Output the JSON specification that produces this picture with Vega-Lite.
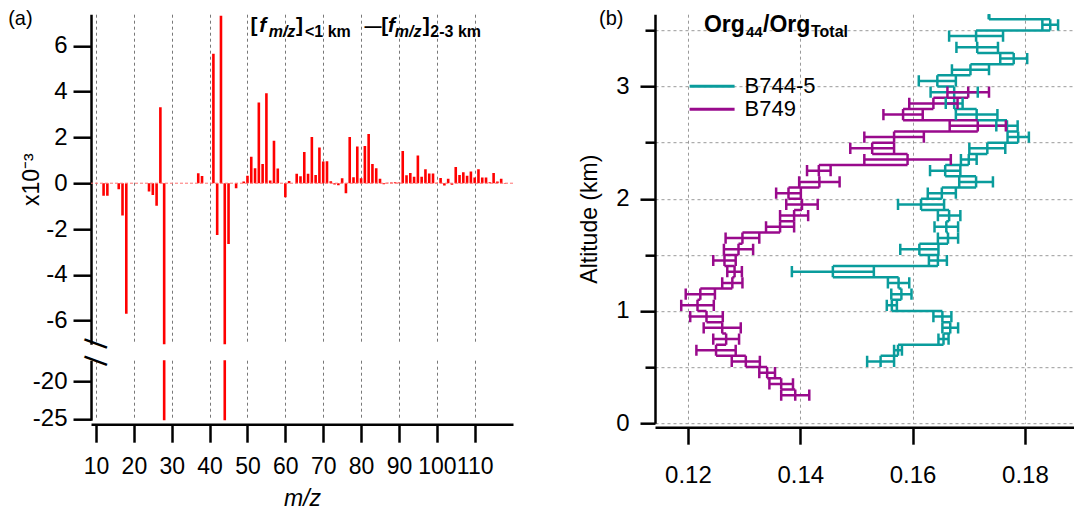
{
  "$schema": "https://vega.github.io/schema/vega-lite/v6.json",
  "background": "white",
  "padding": {"left": 8, "top": 8.2, "right": 0, "bottom": 0},
  "bounds": "flush",
  "spacing": 564,
  "datasets": {
    "ms": [
      {"mz": 12, "d": -0.55}, {"mz": 13, "d": -0.55}, {"mz": 16, "d": -0.26}, {"mz": 17, "d": -1.41}, {"mz": 18, "d": -5.7},
      {"mz": 24, "d": -0.36}, {"mz": 25, "d": -0.51}, {"mz": 26, "d": -0.98}, {"mz": 27, "d": 3.32}, {"mz": 28, "d": -25.5},
      {"mz": 37, "d": 0.44}, {"mz": 38, "d": 0.32}, {"mz": 41, "d": 5.65}, {"mz": 42, "d": -2.26}, {"mz": 43, "d": 7.31},
      {"mz": 44, "d": -25.5}, {"mz": 45, "d": -2.65}, {"mz": 47, "d": -0.22}, {"mz": 49, "d": 0.07}, {"mz": 50, "d": 0.33},
      {"mz": 51, "d": 1.16}, {"mz": 52, "d": 0.65}, {"mz": 53, "d": 3.52}, {"mz": 54, "d": 0.84}, {"mz": 55, "d": 3.93},
      {"mz": 56, "d": 0.12}, {"mz": 57, "d": 1.85}, {"mz": 58, "d": 0.64}, {"mz": 60, "d": -0.61}, {"mz": 61, "d": 0.1},
      {"mz": 63, "d": 0.41}, {"mz": 64, "d": 0.3}, {"mz": 65, "d": 1.36}, {"mz": 66, "d": 0.41}, {"mz": 67, "d": 2.02},
      {"mz": 68, "d": 0.36}, {"mz": 69, "d": 1.56}, {"mz": 70, "d": 0.95}, {"mz": 71, "d": 0.96}, {"mz": 72, "d": 0.09},
      {"mz": 73, "d": -0.06}, {"mz": 74, "d": -0.09}, {"mz": 75, "d": 0.22}, {"mz": 76, "d": -0.44}, {"mz": 77, "d": 2.02},
      {"mz": 78, "d": 0.26}, {"mz": 79, "d": 1.6}, {"mz": 80, "d": 0.22}, {"mz": 81, "d": 1.63}, {"mz": 82, "d": 2.15},
      {"mz": 83, "d": 0.84}, {"mz": 84, "d": 0.65}, {"mz": 85, "d": 0.19}, {"mz": 86, "d": -0.05}, {"mz": 87, "d": 0.02},
      {"mz": 88, "d": 0.03}, {"mz": 89, "d": 0.04}, {"mz": 90, "d": 0.03}, {"mz": 91, "d": 1.41}, {"mz": 92, "d": 0.35},
      {"mz": 93, "d": 0.45}, {"mz": 94, "d": 0.28}, {"mz": 95, "d": 1.21}, {"mz": 96, "d": 0.28}, {"mz": 97, "d": 0.61},
      {"mz": 98, "d": 0.42}, {"mz": 99, "d": 0.42}, {"mz": 100, "d": 0.02}, {"mz": 101, "d": 0.23}, {"mz": 102, "d": -0.1},
      {"mz": 103, "d": 0.19}, {"mz": 104, "d": -0.07}, {"mz": 105, "d": 0.71}, {"mz": 106, "d": 0.36}, {"mz": 107, "d": 0.48},
      {"mz": 108, "d": 0.33}, {"mz": 109, "d": 0.51}, {"mz": 110, "d": 0.25}, {"mz": 111, "d": 0.61}, {"mz": 112, "d": 0.25},
      {"mz": 113, "d": 0.25}, {"mz": 114, "d": 0.04}, {"mz": 115, "d": 0.45}, {"mz": 116, "d": 0.07}, {"mz": 117, "d": 0.19},
      {"mz": 118, "d": -0.02}
    ],
    "prof": [
      {"s": "B744-5", "alt": 0.55, "a0": 0.5, "a1": 0.6, "v": 0.1543, "lo": 0.1519, "hi": 0.1567},
      {"s": "B744-5", "alt": 0.65, "a0": 0.6, "a1": 0.7, "v": 0.1574, "lo": 0.1567, "hi": 0.1581},
      {"s": "B744-5", "alt": 0.75, "a0": 0.7, "a1": 0.8, "v": 0.1655, "lo": 0.1646, "hi": 0.1664},
      {"s": "B744-5", "alt": 0.85, "a0": 0.8, "a1": 0.9, "v": 0.1667, "lo": 0.1653, "hi": 0.1681},
      {"s": "B744-5", "alt": 0.95, "a0": 0.9, "a1": 1.0, "v": 0.1653, "lo": 0.1637, "hi": 0.1669},
      {"s": "B744-5", "alt": 1.05, "a0": 1.0, "a1": 1.1, "v": 0.1563, "lo": 0.1554, "hi": 0.1572},
      {"s": "B744-5", "alt": 1.15, "a0": 1.1, "a1": 1.2, "v": 0.158, "lo": 0.1562, "hi": 0.1598},
      {"s": "B744-5", "alt": 1.25, "a0": 1.2, "a1": 1.3, "v": 0.1575, "lo": 0.1556, "hi": 0.1594},
      {"s": "B744-5", "alt": 1.35, "a0": 1.3, "a1": 1.4, "v": 0.1458, "lo": 0.1385, "hi": 0.1531},
      {"s": "B744-5", "alt": 1.45, "a0": 1.4, "a1": 1.5, "v": 0.1645, "lo": 0.1629, "hi": 0.1661},
      {"s": "B744-5", "alt": 1.55, "a0": 1.5, "a1": 1.6, "v": 0.1612, "lo": 0.1578, "hi": 0.1646},
      {"s": "B744-5", "alt": 1.65, "a0": 1.6, "a1": 1.7, "v": 0.1663, "lo": 0.1645, "hi": 0.1681},
      {"s": "B744-5", "alt": 1.75, "a0": 1.7, "a1": 1.8, "v": 0.166, "lo": 0.1639, "hi": 0.1681},
      {"s": "B744-5", "alt": 1.85, "a0": 1.8, "a1": 1.9, "v": 0.1665, "lo": 0.1645, "hi": 0.1685},
      {"s": "B744-5", "alt": 1.95, "a0": 1.9, "a1": 2.0, "v": 0.1615, "lo": 0.1574, "hi": 0.1656},
      {"s": "B744-5", "alt": 2.05, "a0": 2.0, "a1": 2.1, "v": 0.1652, "lo": 0.1627, "hi": 0.1677},
      {"s": "B744-5", "alt": 2.15, "a0": 2.1, "a1": 2.2, "v": 0.1713, "lo": 0.1683, "hi": 0.1743},
      {"s": "B744-5", "alt": 2.25, "a0": 2.2, "a1": 2.3, "v": 0.1658, "lo": 0.1631, "hi": 0.1685},
      {"s": "B744-5", "alt": 2.35, "a0": 2.3, "a1": 2.4, "v": 0.17, "lo": 0.1686, "hi": 0.1714},
      {"s": "B744-5", "alt": 2.45, "a0": 2.4, "a1": 2.5, "v": 0.1733, "lo": 0.1701, "hi": 0.1765},
      {"s": "B744-5", "alt": 2.55, "a0": 2.5, "a1": 2.6, "v": 0.1788, "lo": 0.1769, "hi": 0.1807},
      {"s": "B744-5", "alt": 2.65, "a0": 2.6, "a1": 2.7, "v": 0.1768, "lo": 0.1749, "hi": 0.1787},
      {"s": "B744-5", "alt": 2.75, "a0": 2.7, "a1": 2.8, "v": 0.1714, "lo": 0.1677, "hi": 0.1751},
      {"s": "B744-5", "alt": 2.85, "a0": 2.8, "a1": 2.9, "v": 0.1674, "lo": 0.1659, "hi": 0.1689},
      {"s": "B744-5", "alt": 2.95, "a0": 2.9, "a1": 3.0, "v": 0.1674, "lo": 0.1632, "hi": 0.1716},
      {"s": "B744-5", "alt": 3.05, "a0": 3.0, "a1": 3.1, "v": 0.1644, "lo": 0.1611, "hi": 0.1677},
      {"s": "B744-5", "alt": 3.15, "a0": 3.1, "a1": 3.2, "v": 0.1703, "lo": 0.167, "hi": 0.1736},
      {"s": "B744-5", "alt": 3.25, "a0": 3.2, "a1": 3.3, "v": 0.178, "lo": 0.1756, "hi": 0.1804},
      {"s": "B744-5", "alt": 3.35, "a0": 3.3, "a1": 3.4, "v": 0.1715, "lo": 0.1678, "hi": 0.1752},
      {"s": "B744-5", "alt": 3.45, "a0": 3.4, "a1": 3.5, "v": 0.1713, "lo": 0.1665, "hi": 0.1761},
      {"s": "B744-5", "alt": 3.55, "a0": 3.5, "a1": 3.6, "v": 0.1845, "lo": 0.1831, "hi": 0.1859},
      {"s": "B744-5", "alt": 3.65, "a0": 3.6, "a1": 3.7, "v": 0.1736, "lo": 0.1736, "hi": 0.1736},
      {"s": "B749", "alt": 0.25, "a0": 0.2, "a1": 0.3, "v": 0.1391, "lo": 0.1366, "hi": 0.1416},
      {"s": "B749", "alt": 0.35, "a0": 0.3, "a1": 0.4, "v": 0.1366, "lo": 0.1345, "hi": 0.1387},
      {"s": "B749", "alt": 0.45, "a0": 0.4, "a1": 0.5, "v": 0.1341, "lo": 0.1327, "hi": 0.1355},
      {"s": "B749", "alt": 0.55, "a0": 0.5, "a1": 0.6, "v": 0.1303, "lo": 0.1278, "hi": 0.1328},
      {"s": "B749", "alt": 0.65, "a0": 0.6, "a1": 0.7, "v": 0.125, "lo": 0.1215, "hi": 0.1285},
      {"s": "B749", "alt": 0.75, "a0": 0.7, "a1": 0.8, "v": 0.1268, "lo": 0.1245, "hi": 0.1291},
      {"s": "B749", "alt": 0.85, "a0": 0.8, "a1": 0.9, "v": 0.1261, "lo": 0.1228, "hi": 0.1294},
      {"s": "B749", "alt": 0.95, "a0": 0.9, "a1": 1.0, "v": 0.1233, "lo": 0.1204, "hi": 0.1262},
      {"s": "B749", "alt": 1.05, "a0": 1.0, "a1": 1.1, "v": 0.1217, "lo": 0.1188, "hi": 0.1246},
      {"s": "B749", "alt": 1.15, "a0": 1.1, "a1": 1.2, "v": 0.1222, "lo": 0.1196, "hi": 0.1248},
      {"s": "B749", "alt": 1.25, "a0": 1.2, "a1": 1.3, "v": 0.1279, "lo": 0.1261, "hi": 0.1297},
      {"s": "B749", "alt": 1.35, "a0": 1.3, "a1": 1.4, "v": 0.1283, "lo": 0.127, "hi": 0.1296},
      {"s": "B749", "alt": 1.45, "a0": 1.4, "a1": 1.5, "v": 0.1265, "lo": 0.1245, "hi": 0.1285},
      {"s": "B749", "alt": 1.55, "a0": 1.5, "a1": 1.6, "v": 0.129, "lo": 0.1264, "hi": 0.1316},
      {"s": "B749", "alt": 1.65, "a0": 1.6, "a1": 1.7, "v": 0.1297, "lo": 0.1267, "hi": 0.1327},
      {"s": "B749", "alt": 1.75, "a0": 1.7, "a1": 1.8, "v": 0.1364, "lo": 0.1339, "hi": 0.1389},
      {"s": "B749", "alt": 1.85, "a0": 1.8, "a1": 1.9, "v": 0.1389, "lo": 0.1364, "hi": 0.1414},
      {"s": "B749", "alt": 1.95, "a0": 1.9, "a1": 2.0, "v": 0.1403, "lo": 0.1375, "hi": 0.1431},
      {"s": "B749", "alt": 2.05, "a0": 2.0, "a1": 2.1, "v": 0.1379, "lo": 0.1357, "hi": 0.1401},
      {"s": "B749", "alt": 2.15, "a0": 2.1, "a1": 2.2, "v": 0.1434, "lo": 0.1398, "hi": 0.147},
      {"s": "B749", "alt": 2.25, "a0": 2.2, "a1": 2.3, "v": 0.1433, "lo": 0.1412, "hi": 0.1454},
      {"s": "B749", "alt": 2.35, "a0": 2.3, "a1": 2.4, "v": 0.1591, "lo": 0.1514, "hi": 0.1668},
      {"s": "B749", "alt": 2.45, "a0": 2.4, "a1": 2.5, "v": 0.1528, "lo": 0.1489, "hi": 0.1567},
      {"s": "B749", "alt": 2.55, "a0": 2.5, "a1": 2.6, "v": 0.1567, "lo": 0.1514, "hi": 0.162},
      {"s": "B749", "alt": 2.65, "a0": 2.6, "a1": 2.7, "v": 0.1716, "lo": 0.1666, "hi": 0.1766},
      {"s": "B749", "alt": 2.75, "a0": 2.7, "a1": 2.8, "v": 0.1583, "lo": 0.1548, "hi": 0.1618},
      {"s": "B749", "alt": 2.85, "a0": 2.8, "a1": 2.9, "v": 0.1637, "lo": 0.1594, "hi": 0.168},
      {"s": "B749", "alt": 2.95, "a0": 2.9, "a1": 3.0, "v": 0.1699, "lo": 0.1662, "hi": 0.1736}
    ]
  },
  "hconcat": [
    {
      "vconcat": [
        {
          "width": 422,
          "height": 330,
          "layer": [
            {
              "data": {"name": "ms"},
              "mark": {"type": "bar", "color": "#ff0000", "width": 2.6, "clip": true},
              "encoding": {
                "x": {"field": "mz", "type": "quantitative",
                  "scale": {"domain": [10, 118.8], "nice": false, "zero": false},
                  "axis": {"values": [10,15,20,25,30,35,40,45,50,55,60,65,70,75,80,85,90,95,100,105,110,115], "labels": false, "ticks": false, "domain": false, "grid": true, "title": null}},
                "y": {"field": "d", "type": "quantitative",
                  "scale": {"domain": [-7.03, 7.38], "nice": false, "zero": false},
                  "axis": {"values": [-6,-4,-2,0,2,4,6], "tickSize": 18, "labelPadding": 6, "grid": false,
                    "labelExpr": "datum.value < 0 ? '-' + abs(datum.value) : '' + datum.value",
                    "title": "x10⁻³", "titleFontSize": 23, "titlePadding": 2}},
                "y2": {"datum": 0}
              }
            },
            {
              "data": {"values": [{}]},
              "mark": {"type": "rule", "color": "#ff7070", "strokeDash": [3, 2], "strokeWidth": 1},
              "encoding": {"y": {"datum": 0, "type": "quantitative"}}
            },
            {"data": {"values": [{}]}, "mark": {"type": "text", "text": "(a)", "fontSize": 20, "align": "left", "baseline": "alphabetic", "font": "Liberation Sans"}, "encoding": {"x": {"datum": -13.19, "type": "quantitative"}, "y": {"datum": 6.9, "type": "quantitative"}}},
            {"data": {"values": [{}]}, "mark": {"type": "text", "text": "[", "fontSize": 21, "fontWeight": "bold", "align": "left", "baseline": "alphabetic", "font": "Liberation Sans"}, "encoding": {"x": {"datum": 50.8, "type": "quantitative"}, "y": {"datum": 6.594, "type": "quantitative"}}},
            {"data": {"values": [{}]}, "mark": {"type": "text", "text": "f", "fontSize": 21, "fontWeight": "bold", "fontStyle": "italic", "align": "left", "baseline": "alphabetic", "font": "Liberation Sans"}, "encoding": {"x": {"datum": 53.1, "type": "quantitative"}, "y": {"datum": 6.594, "type": "quantitative"}}},
            {"data": {"values": [{}]}, "mark": {"type": "text", "text": "m/z", "fontSize": 16, "fontWeight": "bold", "fontStyle": "italic", "align": "left", "baseline": "alphabetic", "font": "Liberation Sans"}, "encoding": {"x": {"datum": 55.6, "type": "quantitative"}, "y": {"datum": 6.406, "type": "quantitative"}}},
            {"data": {"values": [{}]}, "mark": {"type": "text", "text": "]", "fontSize": 21, "fontWeight": "bold", "align": "left", "baseline": "alphabetic", "font": "Liberation Sans"}, "encoding": {"x": {"datum": 62.8, "type": "quantitative"}, "y": {"datum": 6.594, "type": "quantitative"}}},
            {"data": {"values": [{}]}, "mark": {"type": "text", "text": "<1 km", "fontSize": 16, "fontWeight": "bold", "align": "left", "baseline": "alphabetic", "font": "Liberation Sans"}, "encoding": {"x": {"datum": 65.2, "type": "quantitative"}, "y": {"datum": 6.406, "type": "quantitative"}}},
            {"data": {"values": [{}]}, "mark": {"type": "text", "text": "—", "fontSize": 17, "fontWeight": "bold", "align": "left", "baseline": "alphabetic", "font": "Liberation Sans"}, "encoding": {"x": {"datum": 80.9, "type": "quantitative"}, "y": {"datum": 6.594, "type": "quantitative"}}},
            {"data": {"values": [{}]}, "mark": {"type": "text", "text": "[", "fontSize": 21, "fontWeight": "bold", "align": "left", "baseline": "alphabetic", "font": "Liberation Sans"}, "encoding": {"x": {"datum": 85.3, "type": "quantitative"}, "y": {"datum": 6.594, "type": "quantitative"}}},
            {"data": {"values": [{}]}, "mark": {"type": "text", "text": "f", "fontSize": 21, "fontWeight": "bold", "fontStyle": "italic", "align": "left", "baseline": "alphabetic", "font": "Liberation Sans"}, "encoding": {"x": {"datum": 87.1, "type": "quantitative"}, "y": {"datum": 6.594, "type": "quantitative"}}},
            {"data": {"values": [{}]}, "mark": {"type": "text", "text": "m/z", "fontSize": 16, "fontWeight": "bold", "fontStyle": "italic", "align": "left", "baseline": "alphabetic", "font": "Liberation Sans"}, "encoding": {"x": {"datum": 88.9, "type": "quantitative"}, "y": {"datum": 6.406, "type": "quantitative"}}},
            {"data": {"values": [{}]}, "mark": {"type": "text", "text": "]", "fontSize": 21, "fontWeight": "bold", "align": "left", "baseline": "alphabetic", "font": "Liberation Sans"}, "encoding": {"x": {"datum": 96.3, "type": "quantitative"}, "y": {"datum": 6.594, "type": "quantitative"}}},
            {"data": {"values": [{}]}, "mark": {"type": "text", "text": "2-3 km", "fontSize": 16, "fontWeight": "bold", "align": "left", "baseline": "alphabetic", "font": "Liberation Sans"}, "encoding": {"x": {"datum": 98.3, "type": "quantitative"}, "y": {"datum": 6.406, "type": "quantitative"}}}
          ]
        },
        {
          "width": 422,
          "height": 60,
          "layer": [
            {
              "data": {"name": "ms"},
              "mark": {"type": "bar", "color": "#ff0000", "width": 2.6, "clip": true},
              "encoding": {
                "x": {"field": "mz", "type": "quantitative",
                  "scale": {"domain": [10, 118.8], "nice": false, "zero": false},
                  "axis": {"values": [10,15,20,25,30,35,40,45,50,55,60,65,70,75,80,85,90,95,100,105,110,115],
                    "tickSize": {"condition": {"test": "datum.value % 10 === 0", "value": 18}, "value": 10},
                    "labelExpr": "datum.value % 10 === 0 ? format(datum.value, 'd') : ''",
                    "labelOverlap": false, "labelBound": false, "labelFontSize": 23,
                    "offset": 4, "labelPadding": 13, "grid": true, "title": "m/z", "titleFontStyle": "italic", "titleFontSize": 23, "titlePadding": 9}},
                "y": {"field": "d", "type": "quantitative",
                  "scale": {"domain": [-25.2, -17.2], "nice": false, "zero": false},
                  "axis": {"values": [-25, -20], "tickSize": 18, "labelPadding": 6, "grid": false, "title": null,
                    "labelExpr": "'-' + abs(datum.value)"}},
                "y2": {"datum": 0}
              }
            },
            {"data": {"values": [{}]}, "mark": {"type": "text", "text": "—", "fontSize": 24, "fontWeight": "bold", "angle": 20, "align": "center", "baseline": "middle", "font": "Liberation Sans"}, "encoding": {"x": {"datum": 10, "type": "quantitative"}, "y": {"datum": -14.9, "type": "quantitative"}}},
            {"data": {"values": [{}]}, "mark": {"type": "text", "text": "—", "fontSize": 24, "fontWeight": "bold", "angle": 20, "align": "center", "baseline": "middle", "font": "Liberation Sans"}, "encoding": {"x": {"datum": 10, "type": "quantitative"}, "y": {"datum": -17.2, "type": "quantitative"}}}
          ]
        }
      ],
      "spacing": 16,
      "bounds": "flush"
    },
    {
      "width": 420,
      "height": 409,
      "data": {"name": "prof"},
      "layer": [
        {
          "mark": {"type": "rule", "strokeWidth": 2.5, "clip": true},
          "encoding": {
            "x": {"field": "v", "type": "quantitative",
              "scale": {"domain": [0.11413, 0.18891], "nice": false, "zero": false},
              "axis": {"values": [0.12, 0.14, 0.16, 0.18], "format": ".2f", "tickSize": 17, "offset": 4, "labelPadding": 19, "grid": true, "gridColor": "#999", "title": null}},
            "y": {"field": "a0", "type": "quantitative",
              "scale": {"domain": [0, 3.645], "nice": false, "zero": false},
              "axis": {"values": [0, 0.5, 1, 1.5, 2, 2.5, 3, 3.5],
                "tickSize": {"condition": {"test": "datum.value % 1 === 0", "value": 15}, "value": 10},
                "labelExpr": "datum.value % 1 === 0 ? format(datum.value, 'd') : ''",
                "labelPadding": 11, "grid": true, "gridColor": "#999", "title": "Altitude (km)", "titleFontSize": 23, "titlePadding": 14}},
            "y2": {"field": "a1"},
            "color": {"field": "s", "type": "nominal",
              "scale": {"domain": ["B744-5", "B749"], "range": ["#0a9c9c", "#990a8c"]},
              "legend": null}
          }
        },
        {
          "transform": [
            {"window": [{"op": "lead", "field": "v", "as": "vn"}], "sort": [{"field": "alt", "order": "ascending"}], "groupby": ["s"]},
            {"filter": "datum.vn != null"}
          ],
          "mark": {"type": "rule", "strokeWidth": 2.5, "clip": true},
          "encoding": {
            "x": {"field": "v", "type": "quantitative"},
            "x2": {"field": "vn"},
            "y": {"field": "a1", "type": "quantitative"},
            "color": {"field": "s", "type": "nominal", "legend": null}
          }
        },
        {
          "mark": {"type": "rule", "strokeWidth": 2.5, "clip": true},
          "encoding": {
            "x": {"field": "lo", "type": "quantitative"},
            "x2": {"field": "hi"},
            "y": {"field": "alt", "type": "quantitative"},
            "color": {"field": "s", "type": "nominal", "legend": null}
          }
        },
        {
          "mark": {"type": "rule", "strokeWidth": 2.5, "clip": true},
          "encoding": {
            "x": {"field": "lo", "type": "quantitative"},
            "y": {"field": "a0", "type": "quantitative"},
            "y2": {"field": "a1"},
            "color": {"field": "s", "type": "nominal", "legend": null}
          }
        },
        {
          "mark": {"type": "rule", "strokeWidth": 2.5, "clip": true},
          "encoding": {
            "x": {"field": "hi", "type": "quantitative"},
            "y": {"field": "a0", "type": "quantitative"},
            "y2": {"field": "a1"},
            "color": {"field": "s", "type": "nominal", "legend": null}
          }
        },
        {"data": {"values": [{}]}, "mark": {"type": "rule", "strokeWidth": 3, "color": "#0a9c9c"}, "encoding": {"x": {"datum": 0.12029, "type": "quantitative"}, "x2": {"datum": 0.1283}, "y": {"datum": 3.0033, "type": "quantitative"}}},
        {"data": {"values": [{}]}, "mark": {"type": "rule", "strokeWidth": 3, "color": "#990a8c"}, "encoding": {"x": {"datum": 0.12029, "type": "quantitative"}, "x2": {"datum": 0.1283}, "y": {"datum": 2.7983, "type": "quantitative"}}},
        {"data": {"values": [{}]}, "mark": {"type": "text", "text": "B744-5", "fontSize": 22, "align": "left", "baseline": "middle", "font": "Liberation Sans"}, "encoding": {"x": {"datum": 0.13008, "type": "quantitative"}, "y": {"datum": 3.0033, "type": "quantitative"}}},
        {"data": {"values": [{}]}, "mark": {"type": "text", "text": "B749", "fontSize": 22, "align": "left", "baseline": "middle", "font": "Liberation Sans"}, "encoding": {"x": {"datum": 0.13008, "type": "quantitative"}, "y": {"datum": 2.7983, "type": "quantitative"}}},
        {"data": {"values": [{}]}, "mark": {"type": "text", "text": "(b)", "fontSize": 20, "align": "left", "baseline": "alphabetic", "font": "Liberation Sans"}, "encoding": {"x": {"datum": 0.10416, "type": "quantitative"}, "y": {"datum": 3.547, "type": "quantitative"}}},
        {"data": {"values": [{}]}, "mark": {"type": "text", "text": "Org", "fontSize": 23, "fontWeight": "bold", "align": "left", "baseline": "alphabetic", "font": "Liberation Sans"}, "encoding": {"x": {"datum": 0.12285, "type": "quantitative"}, "y": {"datum": 3.485, "type": "quantitative"}}},
        {"data": {"values": [{}]}, "mark": {"type": "text", "text": "44", "fontSize": 15, "fontWeight": "bold", "align": "left", "baseline": "alphabetic", "font": "Liberation Sans"}, "encoding": {"x": {"datum": 0.13033, "type": "quantitative"}, "y": {"datum": 3.445, "type": "quantitative"}}},
        {"data": {"values": [{}]}, "mark": {"type": "text", "text": "/Org", "fontSize": 23, "fontWeight": "bold", "align": "left", "baseline": "alphabetic", "font": "Liberation Sans"}, "encoding": {"x": {"datum": 0.13336, "type": "quantitative"}, "y": {"datum": 3.485, "type": "quantitative"}}},
        {"data": {"values": [{}]}, "mark": {"type": "text", "text": "Total", "fontSize": 16, "fontWeight": "bold", "align": "left", "baseline": "alphabetic", "font": "Liberation Sans"}, "encoding": {"x": {"datum": 0.1419, "type": "quantitative"}, "y": {"datum": 3.445, "type": "quantitative"}}}
      ]
    }
  ],
  "config": {
    "view": {"stroke": null},
    "font": "Liberation Sans",
    "axis": {
      "domainColor": "black", "domainWidth": 2.5, "tickColor": "black", "tickWidth": 2.5,
      "labelFontSize": 24, "labelColor": "black", "labelFont": "Liberation Sans",
      "titleFontSize": 23, "titleFontWeight": "normal", "titleColor": "black", "titleFont": "Liberation Sans",
      "gridColor": "#777", "gridDash": [3, 3], "gridWidth": 1
    }
  }
}
